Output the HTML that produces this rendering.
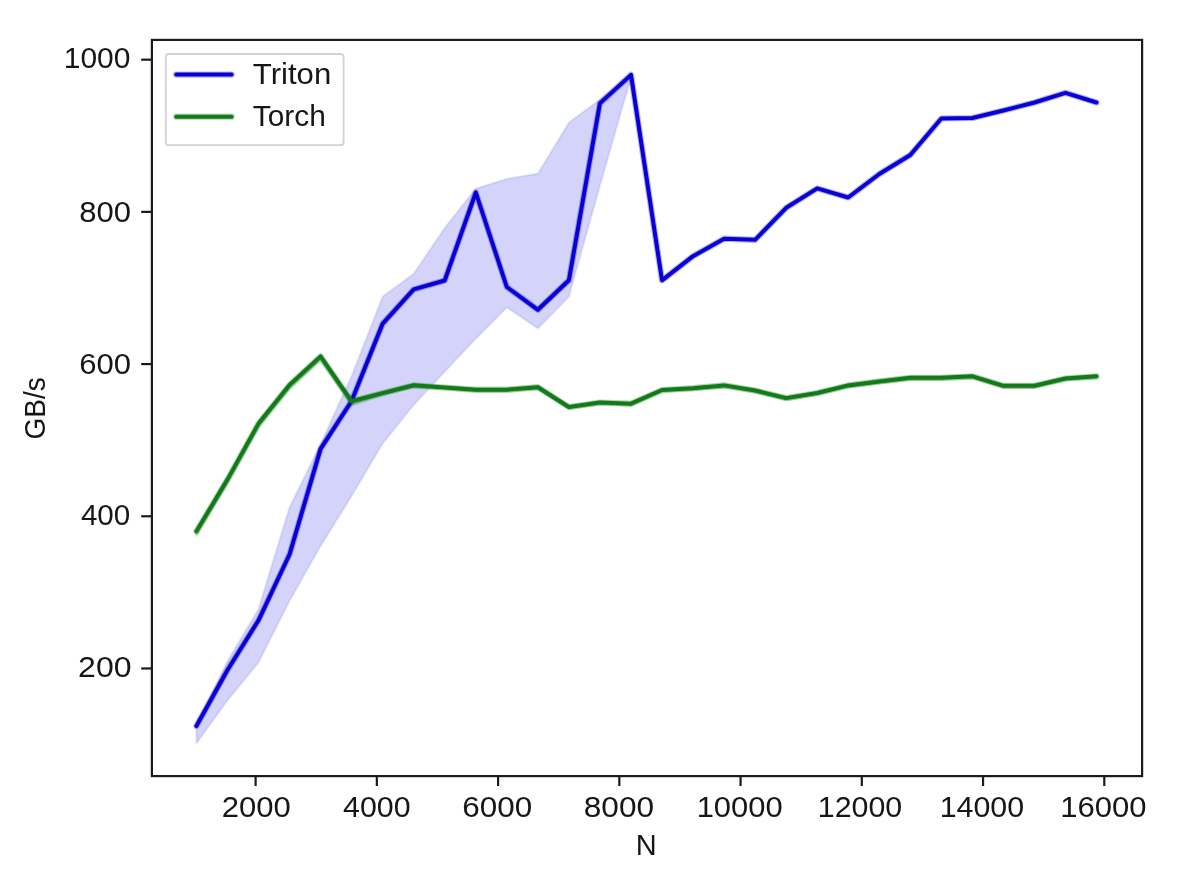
<!DOCTYPE html>
<html><head><meta charset="utf-8"><style>
html,body{margin:0;padding:0;background:#fff;}
body{width:1186px;height:869px;overflow:hidden;}
svg{display:block;will-change:transform;}
text{font-family:"Liberation Sans", sans-serif;fill:#161616;}
</style></head><body>
<svg width="1186" height="869" viewBox="0 0 1186 869">
<rect x="0" y="0" width="1186" height="869" fill="#fff"/>
<g>
<g>
<polygon points="196.4,725.0 227.5,661.0 258.5,609.0 289.5,507.4 320.6,444.0 351.6,376.0 382.7,296.4 413.7,273.7 444.7,228.0 475.8,188.6 506.8,178.8 537.9,173.5 568.9,122.5 599.9,99.6 631.0,74.0 662.0,280.3 693.0,256.2 724.1,238.7 755.1,239.8 786.2,207.8 817.2,188.4 848.2,197.5 879.3,174.0 910.3,155.0 941.3,118.5 972.4,118.0 1003.4,110.5 1034.5,102.5 1065.5,92.8 1096.5,102.5 1096.5,102.5 1065.5,92.8 1034.5,102.5 1003.4,110.5 972.4,118.0 941.3,118.5 910.3,155.0 879.3,174.0 848.2,197.5 817.2,188.4 786.2,207.8 755.1,239.8 724.1,238.7 693.0,256.2 662.0,280.3 631.0,77.5 599.9,186.0 568.9,296.8 537.9,328.6 506.8,307.4 475.8,338.8 444.7,371.8 413.7,405.0 382.7,443.5 351.6,496.0 320.6,546.0 289.5,601.0 258.5,662.5 227.5,700.5 196.4,743.5" fill="rgb(212,212,251)" stroke="rgb(0,0,180)" stroke-opacity="0.08" stroke-width="2.4" stroke-linejoin="round"/>
<polygon points="196.4,530.3 227.5,478.4 258.5,422.6 289.5,384.0 320.6,355.4 351.6,400.3 382.7,392.1 413.7,384.3 444.7,386.5 475.8,388.7 506.8,388.7 537.9,386.2 568.9,406.0 599.9,401.5 631.0,402.7 662.0,389.0 693.0,387.2 724.1,384.4 755.1,389.5 786.2,397.1 817.2,392.0 848.2,384.4 879.3,380.4 910.3,376.8 941.3,376.8 972.4,375.3 1003.4,384.8 1034.5,384.8 1065.5,377.5 1096.5,375.3 1096.5,378.1 1065.5,380.3 1034.5,387.6 1003.4,387.6 972.4,378.1 941.3,379.6 910.3,379.6 879.3,383.2 848.2,387.2 817.2,394.8 786.2,399.9 755.1,392.3 724.1,387.2 693.0,390.0 662.0,391.8 631.0,405.5 599.9,404.3 568.9,408.8 537.9,389.0 506.8,391.5 475.8,391.5 444.7,389.3 413.7,387.1 382.7,394.9 351.6,405.3 320.6,360.4 289.5,389.0 258.5,427.6 227.5,483.4 196.4,535.3" fill="rgb(0,128,0)" fill-opacity="0.2" stroke="rgb(0,128,0)" stroke-opacity="0.2" stroke-width="2.6" stroke-linejoin="round"/>
<polyline points="196.4,726.0 227.5,670.0 258.5,620.3 289.5,554.5 320.6,448.9 351.6,401.0 382.7,323.6 413.7,289.4 444.7,280.5 475.8,192.5 506.8,287.0 537.9,309.8 568.9,280.2 599.9,103.4 631.0,74.9 662.0,280.3 693.0,256.2 724.1,238.7 755.1,239.8 786.2,207.8 817.2,188.4 848.2,197.5 879.3,174.0 910.3,155.0 941.3,118.5 972.4,118.0 1003.4,110.5 1034.5,102.5 1065.5,92.8 1096.5,102.5" fill="none" stroke="#0800d4" stroke-opacity="0.3" stroke-width="6.2" stroke-linejoin="round" stroke-linecap="round"/>
<polyline points="196.4,726.0 227.5,670.0 258.5,620.3 289.5,554.5 320.6,448.9 351.6,401.0 382.7,323.6 413.7,289.4 444.7,280.5 475.8,192.5 506.8,287.0 537.9,309.8 568.9,280.2 599.9,103.4 631.0,74.9 662.0,280.3 693.0,256.2 724.1,238.7 755.1,239.8 786.2,207.8 817.2,188.4 848.2,197.5 879.3,174.0 910.3,155.0 941.3,118.5 972.4,118.0 1003.4,110.5 1034.5,102.5 1065.5,92.8 1096.5,102.5" fill="none" stroke="#0800d4" stroke-width="4.0" stroke-linejoin="round" stroke-linecap="round"/>
<polyline points="196.4,531.3 227.5,479.4 258.5,423.6 289.5,385.0 320.6,356.4 351.6,401.3 382.7,393.1 413.7,385.3 444.7,387.5 475.8,389.7 506.8,389.7 537.9,387.2 568.9,407.0 599.9,402.5 631.0,403.7 662.0,390.0 693.0,388.2 724.1,385.4 755.1,390.5 786.2,398.1 817.2,393.0 848.2,385.4 879.3,381.4 910.3,377.8 941.3,377.8 972.4,376.3 1003.4,385.8 1034.5,385.8 1065.5,378.5 1096.5,376.3" fill="none" stroke="#127a18" stroke-opacity="0.3" stroke-width="6.2" stroke-linejoin="round" stroke-linecap="round"/>
<polyline points="196.4,531.3 227.5,479.4 258.5,423.6 289.5,385.0 320.6,356.4 351.6,401.3 382.7,393.1 413.7,385.3 444.7,387.5 475.8,389.7 506.8,389.7 537.9,387.2 568.9,407.0 599.9,402.5 631.0,403.7 662.0,390.0 693.0,388.2 724.1,385.4 755.1,390.5 786.2,398.1 817.2,393.0 848.2,385.4 879.3,381.4 910.3,377.8 941.3,377.8 972.4,376.3 1003.4,385.8 1034.5,385.8 1065.5,378.5 1096.5,376.3" fill="none" stroke="#127a18" stroke-width="4.0" stroke-linejoin="round" stroke-linecap="round"/>
</g>
<rect x="151.9" y="39.9" width="990.2" height="736.2" fill="none" stroke="#1a1a1a" stroke-width="2.2" stroke-linejoin="miter"/>
<g stroke="#1a1a1a" stroke-width="2.2">
<line x1="255.60" y1="776" x2="255.60" y2="786" />
<line x1="376.84" y1="776" x2="376.84" y2="786" />
<line x1="498.08" y1="776" x2="498.08" y2="786" />
<line x1="619.33" y1="776" x2="619.33" y2="786" />
<line x1="740.57" y1="776" x2="740.57" y2="786" />
<line x1="861.81" y1="776" x2="861.81" y2="786" />
<line x1="983.05" y1="776" x2="983.05" y2="786" />
<line x1="1104.29" y1="776" x2="1104.29" y2="786" />
<line x1="141.2" y1="668.47" x2="152" y2="668.47" />
<line x1="141.2" y1="516.27" x2="152" y2="516.27" />
<line x1="141.2" y1="364.07" x2="152" y2="364.07" />
<line x1="141.2" y1="211.87" x2="152" y2="211.87" />
<line x1="141.2" y1="59.67" x2="152" y2="59.67" />
</g>
<g font-size="29">
<text x="221.69" y="816.8" textLength="69.03" lengthAdjust="spacingAndGlyphs">2000</text>
<text x="343.11" y="816.8" textLength="67.52" lengthAdjust="spacingAndGlyphs">4000</text>
<text x="462.26" y="816.8" textLength="69.85" lengthAdjust="spacingAndGlyphs">6000</text>
<text x="583.79" y="816.8" textLength="70.27" lengthAdjust="spacingAndGlyphs">8000</text>
<text x="696.66" y="816.8" textLength="86.04" lengthAdjust="spacingAndGlyphs">10000</text>
<text x="817.84" y="816.8" textLength="84.40" lengthAdjust="spacingAndGlyphs">12000</text>
<text x="939.67" y="816.8" textLength="84.40" lengthAdjust="spacingAndGlyphs">14000</text>
<text x="1060.36" y="816.8" textLength="86.28" lengthAdjust="spacingAndGlyphs">16000</text>
<text x="78.07" y="677.1" textLength="53.45" lengthAdjust="spacingAndGlyphs">200</text>
<text x="80.92" y="525.1" textLength="49.38" lengthAdjust="spacingAndGlyphs">400</text>
<text x="79.32" y="373.6" textLength="51.77" lengthAdjust="spacingAndGlyphs">600</text>
<text x="79.32" y="222.2" textLength="51.75" lengthAdjust="spacingAndGlyphs">800</text>
<text x="63.74" y="68.4" textLength="66.68" lengthAdjust="spacingAndGlyphs">1000</text>
</g>
<text x="646.3" y="854.8" font-size="29" text-anchor="middle">N</text>
<text transform="translate(45.1,408.3) rotate(-90)" font-size="29" text-anchor="middle" textLength="62.3" lengthAdjust="spacingAndGlyphs">GB/s</text>
<rect x="165.8" y="54.0" width="177.8" height="91.2" rx="3" ry="3" fill="#fff" fill-opacity="0.8" stroke="#d2d2d2" stroke-width="1.8"/>
<line x1="176.2" y1="74.6" x2="231.6" y2="74.6" stroke="#0800d4" stroke-opacity="0.3" stroke-width="6.2" stroke-linecap="round"/>
<line x1="176.2" y1="74.6" x2="231.6" y2="74.6" stroke="#0800d4" stroke-width="4.0" stroke-linecap="round"/>
<line x1="176.2" y1="116.7" x2="231.6" y2="116.7" stroke="#127a18" stroke-opacity="0.3" stroke-width="6.2" stroke-linecap="round"/>
<line x1="176.2" y1="116.7" x2="231.6" y2="116.7" stroke="#127a18" stroke-width="4.0" stroke-linecap="round"/>
<text x="252.8" y="84.3" font-size="29" textLength="78.4" lengthAdjust="spacingAndGlyphs">Triton</text>
<text x="252.8" y="126.3" font-size="29" textLength="73.1" lengthAdjust="spacingAndGlyphs">Torch</text>
</g>
</svg>
</body></html>
